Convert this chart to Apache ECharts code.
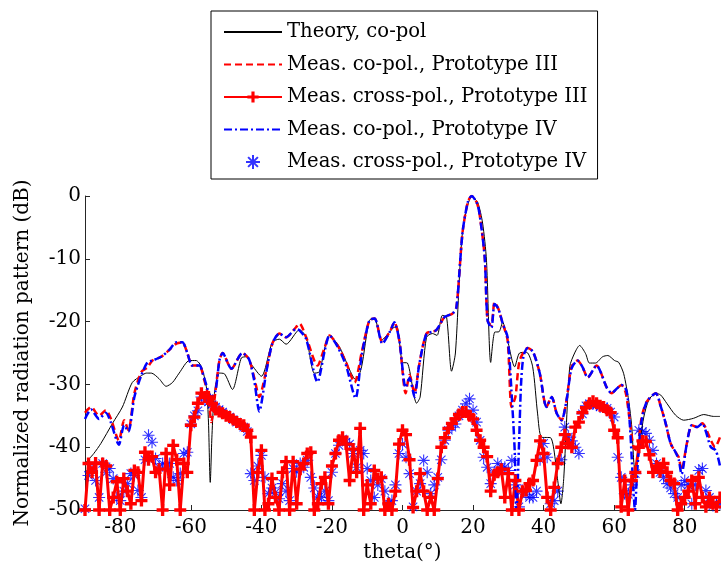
<!DOCTYPE html>
<html>
<head>
<meta charset="utf-8">
<script src="https://cdn.jsdelivr.net/npm/echarts@6/dist/echarts.min.js"></script>
<style>
  body { margin: 0; background: #fff; }
  #chart { width: 721px; height: 572px; }
</style>
</head>
<body>
<div id="chart"></div>
<script>
// 數據
const xTicks = [-80, -60, -40, -20, 0, 20, 40, 60, 80];

// Theory, co-pol
const theoryTheta = [-90, -87.5, -85.5, -82.2, -79.4, -76.6, -74, -72.6, -71.2, -69, -67, -65.2, -63.3, -60.4, -58.5, -57, -55.6, -55, -54.5, -54, -53.3, -51.9, -50.5, -48.2, -45.7, -44.3, -42.6, -40, -36.9, -34.9, -33, -29.2, -27.3, -25, -23.6, -20.7, -17.9, -13.1, -11.6, -9.4, -7.9, -6, -3.7, -2.3, -1.4, 0, 1.4, 4, 5, 6.8, 8.5, 9.8, 11.3, 12.5, 13.9, 15, 17, 19.6, 21.3, 22.7, 23.8, 25, 26.1, 27.4, 28.4, 29.8, 31.8, 33.2, 35.2, 36.9, 38.3, 39.4, 42, 44, 44.9, 45.7, 47.4, 48.8, 50.2, 51.9, 53, 54.7, 56.7, 58.2, 60.1, 61.3, 62.7, 64.1, 65, 65.8, 66.5, 68.4, 69.8, 71.8, 73.2, 74.9, 77.4, 79.7, 82.5, 85.4, 88.2, 90];
const theoryDb = [-42.6, -41, -39.4, -36.2, -33.6, -29.7, -28.6, -28.2, -28.2, -29.1, -30.3, -29.7, -28.2, -26.2, -26.2, -27.2, -30.4, -36, -45.6, -38, -31.4, -28.2, -28.3, -30.8, -25.8, -25.6, -27, -28.7, -23.3, -22.8, -23.6, -21.3, -22.5, -28.2, -28, -22.2, -24, -29.3, -27.2, -19.8, -19.5, -23, -21.7, -20.9, -21, -26.5, -26.6, -33, -32, -22.5, -21.9, -22.2, -19, -19.3, -27.9, -25, -5.7, -0.1, -1, -4.3, -10.2, -26.5, -21.7, -21.6, -20.1, -23, -27.2, -25, -24.9, -27.2, -34.7, -38.4, -38.5, -45.3, -49, -45, -27.2, -25, -23.8, -25.1, -26.6, -26.6, -25.6, -25.4, -26.2, -26.5, -28.3, -32.5, -36.8, -43.2, -42, -35.2, -32.5, -31.4, -31.7, -33, -34.9, -35.7, -35.4, -34.8, -35.1, -35.1];

// Meas. co-pol., Prototype III
const coIIITheta = [-90, -88.3, -86, -84.1, -82.7, -80.4, -78.9, -77.7, -76, -74, -72.3, -70.9, -68.4, -66.1, -64.1, -62.4, -61, -59.6, -57.6, -56.2, -55, -54.2, -53, -51.9, -51, -48.5, -45.4, -43.5, -42, -40.6, -38.6, -36.9, -34.9, -33, -30.2, -29.2, -27.3, -24.1, -22, -20.7, -18.4, -16, -13.6, -11.6, -9.4, -7.9, -5.7, -3.5, -2.3, -0.9, 0.9, 2, 3.4, 4.7, 6.8, 9.5, 11.9, 14.2, 15.3, 17, 18.5, 19.6, 21, 21.8, 23.3, 24.1, 25.2, 26.1, 27.2, 28.4, 29.8, 30.9, 32, 33.2, 35.5, 37, 38.9, 40.8, 42.3, 43.7, 45.1, 46.5, 47.9, 49.6, 51, 52.5, 55, 57.9, 59.3, 60.5, 62.1, 63.3, 64.4, 65.5, 66.4, 67.8, 69.2, 71.8, 73.2, 74.6, 76, 77.4, 78.3, 79.1, 80.6, 82, 83.5, 85, 86, 87.4, 88.6, 90];
const coIIIDb = [-34.5, -33.6, -35, -34.1, -35.4, -38.9, -35.7, -37.3, -31.4, -28, -27.3, -26.2, -25.6, -24.5, -23.5, -23.3, -25, -27, -27, -29.3, -32, -36, -31, -26.2, -25, -27.5, -25, -26, -29, -32, -27.7, -23.5, -21.9, -22.5, -20.9, -20.3, -22.5, -27, -24, -22.2, -23.8, -26.5, -29.7, -25, -19.8, -19.5, -23.3, -21.5, -20.1, -23, -31.4, -28.5, -31.4, -27, -21.9, -21.4, -19.3, -18.7, -17.7, -5.9, -1, 0, -1, -2.7, -9.7, -19.8, -20.6, -16.9, -18, -20.3, -23, -33.6, -32, -26.2, -24.2, -24.8, -28.2, -33.6, -32, -34.6, -35.7, -32.5, -27.2, -26.2, -27.2, -28.9, -27, -30.5, -31.4, -30.8, -30.1, -31.4, -35.7, -40, -40.5, -35.2, -32.8, -31.4, -33.5, -36.2, -39.4, -40.8, -41.6, -43.7, -39.4, -36.5, -36.8, -36.2, -37, -38.9, -40, -38.4];

// Meas. co-pol., Prototype IV
const coIVTheta = [-90, -88.3, -86, -84.1, -82.7, -80.4, -78.9, -77.7, -76, -74, -72.3, -70.9, -68.4, -66.1, -64.1, -62.4, -61, -59.6, -57.6, -56.2, -55, -54.2, -53, -51.9, -51, -48.5, -45.4, -43.5, -42, -40.6, -38.6, -36.9, -34.9, -33, -30.2, -29.2, -27.3, -24.1, -22, -20.7, -18.4, -16, -13.3, -11.6, -9.4, -7.9, -5.7, -3.5, -2.3, -0.9, 0.9, 2, 3.4, 4.7, 6.8, 9.5, 11.9, 14.2, 15.3, 17, 18.5, 19.6, 21, 21.8, 23.3, 24.1, 25.2, 26.1, 27.2, 28.4, 29.8, 31.2, 31.8, 32.3, 33, 33.6, 34.3, 35.5, 37, 38.9, 40.8, 42.3, 43.7, 45.1, 46.5, 47.9, 49.6, 51, 52.5, 55, 57.9, 59.3, 60.5, 62.1, 63.5, 64.4, 65.2, 65.9, 66.4, 67.3, 67.8, 69.2, 71.8, 73.2, 74.6, 76, 77.4, 78.3, 79.1, 80.6, 82, 83.5, 85, 86, 87.4, 88.8, 90];
const coIVDb = [-35.5, -34, -35.5, -34.5, -36, -39.6, -36.5, -37.5, -32, -28.5, -26.5, -26.2, -25.6, -24.5, -23.3, -23.3, -25, -27, -27, -29, -31.2, -32, -31, -26.2, -25, -27.5, -25, -26, -29.5, -34.3, -28, -23.5, -21.9, -22.5, -21.2, -21.4, -22.8, -29.6, -24.5, -22.2, -24, -27, -32.2, -25.5, -19.8, -19.5, -23.5, -21.5, -20.1, -23, -30.5, -29, -32, -27, -22, -21.4, -19.3, -18.7, -17.7, -5.9, -1, 0, -1, -2.7, -9.7, -19.8, -21, -17.2, -18, -20.3, -22.5, -34.1, -40.5, -50, -40, -30, -25.5, -24.2, -24.8, -28.2, -33.6, -32, -34.6, -35.7, -32.5, -27.5, -26.2, -27.2, -28.9, -27, -30.5, -31.4, -30.8, -30.1, -31, -36, -44, -50, -45, -38, -35.7, -32.8, -31.4, -33.5, -36.2, -39.4, -40.8, -42, -44.3, -39.4, -36.5, -36.8, -36.2, -37.5, -40, -40.5, -43];

// 交叉極化（每度一點，-90..90）
const crossIII = [
  -50, -42.6, -44, -42.5, -50, -42.6, -43, -50, -48, -45.5,
  -50, -45, -47, -49, -43.7, -44, -48.5, -40.8, -42, -41.5,
  -44, -43.5, -50, -41, -46, -39.7, -42, -50, -42.6, -44,
  -36.5, -35.2, -33, -31.4, -32, -32, -33, -34, -34.3, -34.6,
  -35, -35.2, -35.6, -36, -36.3, -36.5, -37.3, -38.4, -50, -44,
  -40.5, -50, -49, -45, -48, -50, -44, -42.3, -50, -42.3,
  -49, -43.5, -42.6, -41, -40.8, -50, -49, -45.8, -44.8, -49,
  -43, -41, -38.9, -38.4, -39.5, -45.3, -40.3, -44, -37, -50,
  -46, -49, -43.7, -45, -44.8, -50, -49, -50, -47, -39.5,
  -37.3, -38, -42, -49.6, -47, -44.2, -47, -50, -48, -50,
  -45, -40, -38.5, -37, -36.2, -35.5, -34.8, -34.4, -34.4, -35,
  -35.5, -37.3, -38.9, -40, -41.5, -47, -44.4, -44, -43.5, -48,
  -44.2, -50, -45.3, -50, -47, -46.9, -45.8, -45.3, -42.1, -39,
  -41, -48, -50, -46.4, -42.6, -40, -38, -39.4, -40, -36.8,
  -36, -34.5, -33.7, -33, -32.7, -33, -33.4, -33.6, -34.1, -34.5,
  -37.3, -38.5, -49.5, -45.3, -50, -45.3, -44, -40, -39, -39.1,
  -41.2, -44, -43, -43.9, -42.6, -44, -45.3, -45.8, -50, -49,
  -48, -47, -45.3, -49, -44.8, -48, -49.5, -48, -49, -49.5,
  -48
];
const crossIV = [
  -49.8, -44.5, -43.7, -45.3, -48, -42.6, -44, -43.4, -45, -48,
  -48.5, -47, -45.8, -44.2, -44.5, -46.9, -48, -42, -38.1, -39.2,
  -41.8, -43.2, -42.6, -43, -42.6, -44.8, -45.3, -44.2, -41, -40.8,
  -36.3, -35, -34.2, -32, -32.5, -32.8, -33.2, -33.6, -34, -34.4,
  -34.8, -35.2, -35.6, -36, -36.3, -36.8, -37.5, -44.2, -45.3, -43,
  -41.3, -44.8, -47.4, -46.5, -47.2, -48.2, -45.8, -47, -48.5, -43.4,
  -43.9, -42.6, -43.2, -42.1, -44.8, -46.5, -47.9, -48, -47, -48.5,
  -44, -41, -39.7, -38.7, -39.2, -39.5, -41, -43.2, -40.5, -41,
  -43.4, -45.3, -48, -46, -45, -47, -49, -48.5, -46, -41,
  -39.5, -41.6, -44.2, -49.5, -47, -45.8, -42.1, -44, -47.4, -46,
  -44.8, -42, -38.9, -37.3, -36.8, -36.3, -35, -34.1, -33.1, -32.3,
  -34.1, -36, -38.9, -41.6, -43.2, -45.8, -44, -42.6, -43.2, -43.2,
  -43.7, -42.1, -46, -49.5, -46.9, -47.5, -48, -48, -47, -42,
  -39.4, -41.6, -49, -48.5, -47, -42, -36.8, -38.4, -39, -40,
  -41, -34.7, -33.4, -33.1, -33.1, -33.3, -33.6, -33.6, -33.8, -34.4,
  -35.2, -41.6, -44.8, -47.4, -47.5, -46, -44.2, -37.3, -37.5, -37.8,
  -38.9, -40.5, -42.6, -44, -44.8, -45.8, -46.5, -47.4, -48, -46,
  -45.3, -46, -49, -46, -43.7, -43.4, -46.9, -48, -49.3, -49,
  -49
];

const crossTheta = [];
for (let t = -90; t <= 90; t++) crossTheta.push(t);

const pair = (xs, ys) => xs.map((x, i) => [x, ys[i]]);

const FONT = 'DejaVu Serif';
const RED = '#ff0000';
const BLUE = '#0000ff';
const PLUS = 'path://M3.6,0L6.4,0L6.4,3.6L10,3.6L10,6.4L6.4,6.4L6.4,10L3.6,10L3.6,6.4L0,6.4L0,3.6L3.6,3.6Z';
const STAR = 'path://M5,0L5,10M0,5L10,5M1.5,1.5L8.5,8.5M8.5,1.5L1.5,8.5';

// 線條系列在圖例中不顯示圓點
const noDot = { opacity: 0 };

const chart = echarts.init(document.getElementById('chart'));
chart.setOption({
    animation: false,
    backgroundColor: '#fff',
    textStyle: { fontFamily: FONT, color: '#000' },
    grid: { left: 85, right: 1, top: 196, bottom: 62 },
    legend: {
        orient: 'vertical',
        left: 211,
        top: 11,
        padding: [11, 10, 7, 12],
        borderColor: '#000',
        borderWidth: 1,
        itemWidth: 58,
        itemHeight: 14,
        itemGap: 12.5,
        textStyle: { fontFamily: FONT, fontSize: 19.6, color: '#000', lineHeight: 20 },
        data: [
            { name: 'Theory, co-pol', itemStyle: noDot },
            { name: 'Meas. co-pol., Prototype III', itemStyle: noDot },
            { name: 'Meas. cross-pol., Prototype III' },
            { name: 'Meas. co-pol., Prototype IV', itemStyle: noDot },
            { name: 'Meas. cross-pol., Prototype IV' }
        ]
    },
    xAxis: {
        type: 'value',
        min: -90,
        max: 90,
        name: 'theta(°)',
        nameLocation: 'middle',
        nameGap: 32,
        nameTextStyle: { fontFamily: FONT, fontSize: 20, color: '#000' },
        axisLine: { onZero: false, lineStyle: { color: '#262626', width: 1 } },
        axisTick: { inside: true, length: 5, customValues: xTicks, lineStyle: { color: '#262626' } },
        axisLabel: { customValues: xTicks, fontFamily: FONT, fontSize: 20, color: '#000', margin: 8 },
        splitLine: { show: false }
    },
    yAxis: {
        type: 'value',
        min: -50,
        max: 0,
        interval: 10,
        name: 'Normalized radiation pattern (dB)',
        nameLocation: 'middle',
        nameGap: 52,
        nameRotate: 90,
        nameTextStyle: { fontFamily: FONT, fontSize: 20, color: '#000' },
        axisLine: { show: true, onZero: false, lineStyle: { color: '#262626', width: 1 } },
        axisTick: { show: true, inside: true, length: 5, lineStyle: { color: '#262626' } },
        axisLabel: { fontFamily: FONT, fontSize: 20, color: '#000', margin: 4 },
        splitLine: { show: false }
    },
    series: [
        {
            name: 'Theory, co-pol',
            type: 'line',
            data: pair(theoryTheta, theoryDb),
            showSymbol: false,
            symbol: 'none',
            smooth: 0.25,
            lineStyle: { color: '#000', width: 1 },
            itemStyle: { color: '#000' }
        },
        {
            name: 'Meas. co-pol., Prototype III',
            type: 'line',
            data: pair(coIIITheta, coIIIDb),
            showSymbol: false,
            symbol: 'none',
            smooth: 0.25,
            lineStyle: { color: RED, width: 2.5, type: [7, 4] },
            itemStyle: { color: RED }
        },
        {
            name: 'Meas. cross-pol., Prototype III',
            type: 'line',
            data: pair(crossTheta, crossIII),
            symbol: PLUS,
            symbolSize: 12,
            showSymbol: true,
            lineStyle: { color: RED, width: 3 },
            itemStyle: { color: RED }
        },
        {
            name: 'Meas. co-pol., Prototype IV',
            type: 'line',
            data: pair(coIVTheta, coIVDb),
            showSymbol: false,
            symbol: 'none',
            smooth: 0.25,
            lineStyle: { color: BLUE, width: 2.5, type: [8, 3, 2, 3] },
            itemStyle: { color: BLUE }
        },
        {
            name: 'Meas. cross-pol., Prototype IV',
            type: 'scatter',
            data: pair(crossTheta, crossIV),
            symbol: STAR,
            symbolSize: 12,
            itemStyle: { color: 'rgba(0,0,0,0)', borderColor: BLUE, borderWidth: 1.1 }
        }
    ]
});
</script>
</body>
</html>
